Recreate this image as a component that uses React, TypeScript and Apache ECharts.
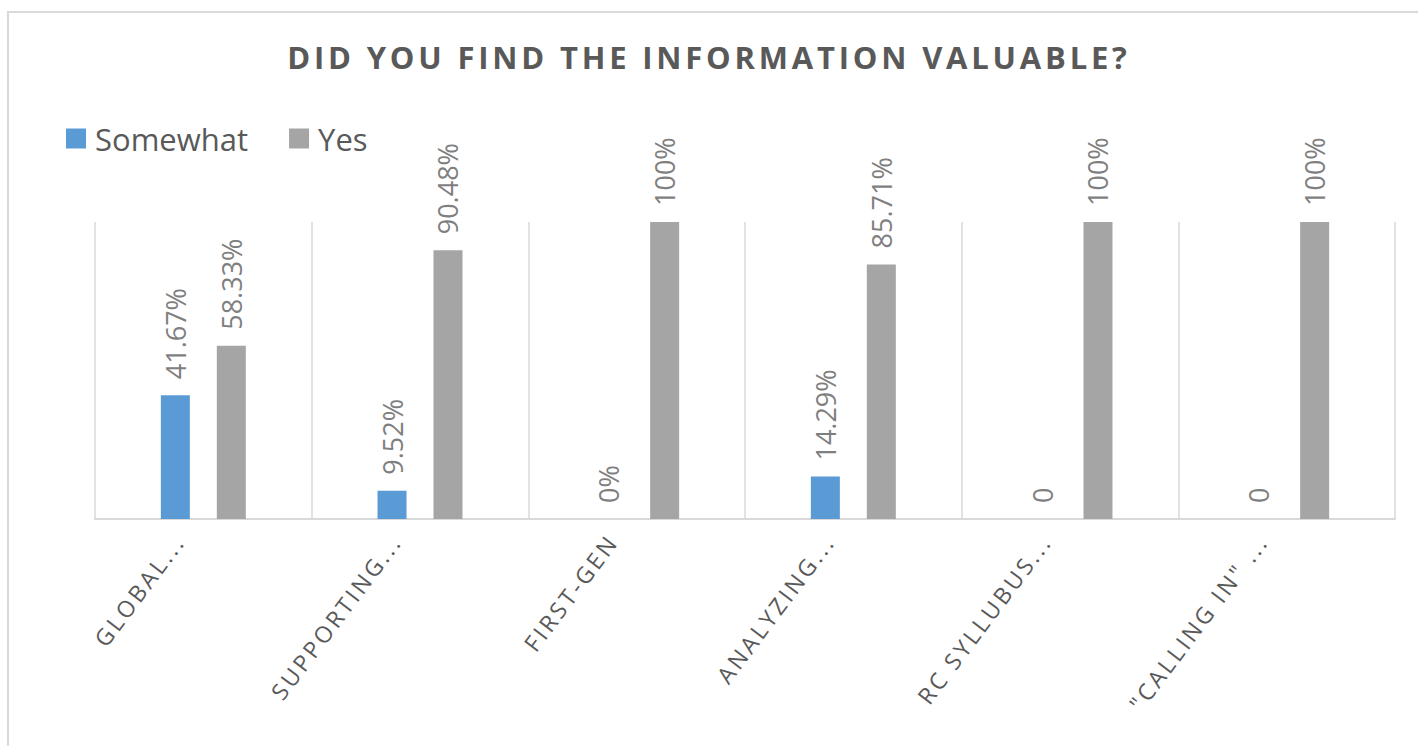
import React, { useEffect, useRef } from 'react';
import * as echarts from 'echarts';

const TITLE = 'DID YOU FIND THE INFORMATION VALUABLE?';
const categories = ['GLOBAL...', 'SUPPORTING...', 'FIRST-GEN', 'ANALYZING...', 'RC SYLLUBUS...', '"CALLING IN" ...'];
const seriesNames = ['Somewhat', 'Yes'];
const somewhatValues = [0.4167, 0.0952, 0, 0.1429, 0, 0];
const yesValues = [0.5833, 0.9048, 1, 0.8571, 1, 1];
const somewhatLabels = ['41.67%', '9.52%', '0%', '14.29%', '0', '0'];
const yesLabels = ['58.33%', '90.48%', '100%', '85.71%', '100%', '100%'];

const FONT = '"Open Sans", "Noto Sans", sans-serif';

function applySpacing(root: HTMLElement) {
  root.querySelectorAll('text').forEach((t) => {
    const s = t.textContent || '';
    if (s === TITLE) t.setAttribute('letter-spacing', '3.8');
    else if (categories.includes(s)) t.setAttribute('letter-spacing', '3');
  });
}

export default function App() {
  const ref = useRef<HTMLDivElement>(null);
  useEffect(() => {
    if (!ref.current) return;
    const el = ref.current;
    const chart = echarts.init(el, null, { renderer: 'svg' });
    const labelBase = {
      show: true,
      position: 'top',
      rotate: 90,
      align: 'left',
      verticalAlign: 'middle',
      distance: 16,
      color: '#7F7F7F',
      fontFamily: FONT,
      fontSize: 27,
    };
    chart.setOption({
      animation: false,
      backgroundColor: '#FFFFFF',
      title: {
        text: TITLE,
        left: 'center',
        top: 36,
        textStyle: { color: '#595959', fontFamily: FONT, fontWeight: 'bold', fontSize: 31 },
      },
      legend: {
        left: 61,
        top: 118,
        icon: 'rect',
        itemWidth: 20,
        itemHeight: 20,
        itemGap: 41,
        textStyle: { color: '#595959', fontFamily: FONT, fontSize: 31, padding: [0, 0, 0, 4] },
        data: seriesNames,
      },
      graphic: [
        {
          type: 'rect',
          z: -10,
          shape: { x: 8, y: 12, width: 1430, height: 760 },
          style: { fill: 'none', stroke: '#D9D9D9', lineWidth: 2 },
          silent: true,
        },
      ],
      grid: { left: 95, right: 23, top: 222, bottom: 227, containLabel: false },
      xAxis: {
        type: 'category',
        data: categories,
        boundaryGap: true,
        axisLine: { show: true, lineStyle: { color: '#D9D9D9', width: 2 } },
        axisTick: { show: false },
        splitLine: { show: true, lineStyle: { color: '#D9D9D9', width: 1.5 } },
        axisLabel: {
          rotate: 53,
          margin: -14,
          padding: [0, 40, 0, 0],
          interval: 0,
          color: '#595959',
          fontFamily: FONT,
          fontSize: 23,
        },
      },
      yAxis: {
        type: 'value',
        min: 0,
        max: 1,
        show: false,
        splitLine: { show: false },
      },
      series: [
        {
          name: seriesNames[0],
          type: 'bar',
          data: somewhatValues,
          barWidth: 29,
          barGap: '93%',
          itemStyle: { color: '#5B9BD5' },
          label: { ...labelBase, formatter: (p: any) => somewhatLabels[p.dataIndex] },
        },
        {
          name: seriesNames[1],
          type: 'bar',
          data: yesValues,
          barWidth: 29,
          barGap: '93%',
          itemStyle: { color: '#A5A5A5' },
          label: { ...labelBase, formatter: (p: any) => yesLabels[p.dataIndex] },
        },
      ],
    });
    applySpacing(el);
    chart.on('finished', () => applySpacing(el));
    const timer = setTimeout(() => applySpacing(el), 50);
    return () => {
      clearTimeout(timer);
      chart.dispose();
    };
  }, []);
  return (
    <div
      ref={ref}
      style={{ position: 'fixed', left: 0, top: 0, width: 1418, height: 746, background: '#FFFFFF' }}
    />
  );
}
